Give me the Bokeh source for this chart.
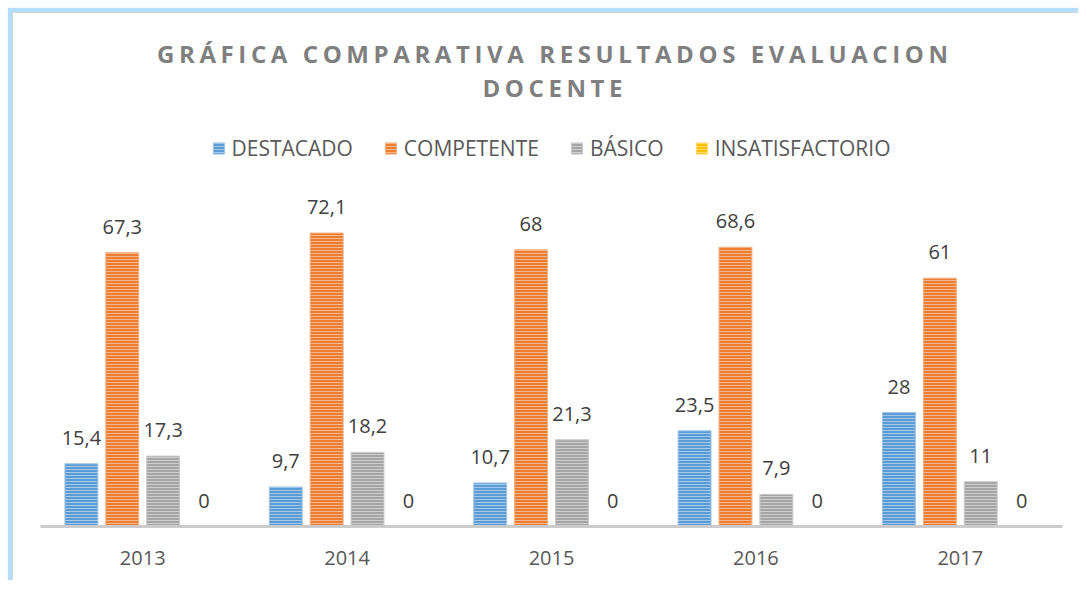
from bokeh.plotting import figure
from bokeh.layouts import column
from bokeh.models import (FactorRange, Range1d, ColumnDataSource, Legend, LegendItem, Label)
from bokeh.transform import dodge
from bokeh.core.properties import value
from bokeh.embed import file_html
from bokeh.resources import INLINE

# ---- data ----
years = ["2013", "2014", "2015", "2016", "2017"]
destacado = [15.4, 9.7, 10.7, 23.5, 28]
competente = [67.3, 72.1, 68, 68.6, 61]
basico = [17.3, 18.2, 21.3, 7.9, 11]
insatisfactorio = [0, 0, 0, 0, 0]
series_names = ["DESTACADO", "COMPETENTE", "BÁSICO", "INSATISFACTORIO"]
title_line1 = "GRÁFICA COMPARATIVA RESULTADOS EVALUACION"
title_line2 = "DOCENTE"

series_values = [destacado, competente, basico, insatisfactorio]
colors = ["#5B9BD5", "#ED7D31", "#A5A5A5", "#FFC000"]
edge_colors = ["#9DC3E6", "#F4B183", "#C9C9C9", "#FFD966"]
offsets = [-0.3, -0.1, 0.1, 0.3]
BAR_W = 0.161

W = 1066
HT = 100                 # title strip height
H = 568 - HT             # main chart height
BL, BR, BB = 27, 17, 55
FRAME_H = H - BB
PX_PER_UNIT = 4.07
Y_MAX = FRAME_H / PX_PER_UNIT
SPACING = 4.6            # title letter spacing (px)

FONT = "Open Sans"


def fmt(v):
    return f"{v:g}".replace(".", ",")


# ---- title strip (letter-spaced, like the original) ----
t = figure(width=W, height=HT, x_range=Range1d(0, W), y_range=Range1d(0, HT),
           output_backend="svg", toolbar_location=None, title=None,
           x_axis_location=None, y_axis_location=None,
           min_border=0, outline_line_color=None, border_fill_color="white",
           styles={"letter-spacing": f"{SPACING}px"})
t.xgrid.grid_line_color = None
t.ygrid.grid_line_color = None
for txt, px in [(title_line1, 39.5), (title_line2, 73.5)]:
    t.add_layout(Label(x=534, y=HT - px, text=txt, text_align="center", text_baseline="middle",
                       x_offset=-(len(txt) - 1) * SPACING / 2,
                       text_font=FONT, text_font_size="24px", text_font_style="bold",
                       text_color="#7f7f7f"))

# ---- main chart ----
p = figure(
    x_range=FactorRange(factors=years),
    y_range=Range1d(0, Y_MAX),
    width=W, height=H,
    output_backend="svg", toolbar_location=None,
    y_axis_location=None, title=None,
    min_border_left=BL, min_border_right=BR,
    min_border_bottom=BB, min_border_top=0,
    outline_line_color=None,
    background_fill_color="white", border_fill_color="white",
)
p.xgrid.grid_line_color = None
p.ygrid.grid_line_color = None

renderers = []
for name, vals, col, edge, off in zip(series_names, series_values, colors, edge_colors, offsets):
    src = ColumnDataSource(dict(year=years, val=vals, lab=[fmt(v) for v in vals]))
    r = p.vbar(x=dodge("year", off, range=p.x_range), top="val", width=BAR_W, source=src,
               fill_color=col, line_color=edge, line_width=1,
               hatch_pattern="horizontal_line", hatch_color="white",
               hatch_alpha=0.45, hatch_scale=3, hatch_weight=1)
    renderers.append(r)
    p.text(x=dodge("year", off, range=p.x_range), y="val", text="lab", source=src,
           text_align="center", text_baseline="middle", y_offset=-26,
           text_font=value(FONT), text_font_size="20px", text_color="#404040")

xa = p.xaxis[0]
xa.axis_line_color = "#cccccc"
xa.axis_line_width = 3
xa.major_tick_line_color = None
xa.minor_tick_line_color = None
xa.major_label_text_font = FONT
xa.major_label_text_font_size = "20px"
xa.major_label_text_color = "#595959"
xa.major_label_standoff = 18

legend = Legend(
    items=[LegendItem(label=n, renderers=[r]) for n, r in zip(series_names, renderers)],
    orientation="horizontal", location="top_center",
    glyph_width=14, glyph_height=14, label_standoff=6, spacing=31,
    label_text_font=FONT, label_text_font_size="21px", label_text_color="#595959",
    padding=0, margin=121 - HT, border_line_color=None, background_fill_alpha=0,
)
p.add_layout(legend, "center")

layout = column(t, p, spacing=0,
                styles={"margin-left": "13px", "margin-top": "13px",
                        "box-shadow": "-1px -1px 0 0 #d6d6d6, -3px -3px 1px 2px #b4dcfb"})

open("out.html", "w").write(file_html(layout, INLINE))
